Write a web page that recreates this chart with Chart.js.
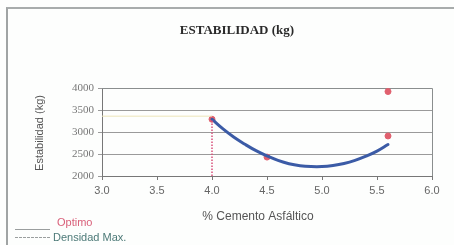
<!DOCTYPE html>
<html>
<head>
<meta charset="utf-8">
<script src="https://cdn.jsdelivr.net/npm/chart.js@4/dist/chart.umd.min.js"></script>
<style>
  html, body { margin: 0; padding: 0; background: #fff; }
  #wrap { position: relative; width: 454px; height: 245px; overflow: hidden; background: #fdfefd; }
  #frame { position: absolute; left: 6px; top: 7px; width: 460px; height: 260px; border-left: 2px solid #a0a4a4; border-top: 2px solid #a8acac; box-sizing: border-box; }
  canvas { position: absolute; left: 0; top: 0; }
</style>
</head>
<body>
<div id="wrap">
  <div id="frame"></div>
  <canvas id="c" width="454" height="245"></canvas>
</div>
<script>
// ---- data ----
const chartTitle = 'ESTABILIDAD (kg)';
const xTitle = '% Cemento Asfáltico';
const yTitle = 'Estabilidad (kg)';
const legendLabels = ['Optimo', 'Densidad Max.'];

// measured points (red markers)
const pointX = [4.0, 4.5, 5.6, 5.6];
const pointY = [3290, 2430, 2910, 3920];

// trend curve (blue)
const curveX = [4.0, 4.1, 4.2, 4.3, 4.4, 4.5, 4.6, 4.7, 4.8, 4.9, 5.0, 5.1, 5.2, 5.3, 5.4, 5.5, 5.6];
const curveY = [3290, 3070, 2880, 2720, 2575, 2455, 2355, 2280, 2235, 2215, 2215, 2240, 2285, 2355, 2450, 2565, 2715];

// optimum markers
const optX = [4.0, 4.0];
const optY = [2000, 3290];
const densX = [3.0, 4.0];
const densY = [3360, 3360];

// axes
const xMin = 3.0, xMax = 6.0, xStep = 0.5;
const yMin = 2000, yMax = 4000, yStep = 500;

const toXY = (xs, ys) => xs.map((x, i) => ({ x: x, y: ys[i] }));

const extras = {
  id: 'extras',
  beforeDatasetsDraw(chart) {
    const { ctx, chartArea: a } = chart;
    ctx.save();
    ctx.strokeStyle = '#8a8e8e';
    ctx.lineWidth = 1;
    ctx.beginPath();
    ctx.moveTo(a.left, a.top + 0.5);
    ctx.lineTo(a.right + 0.5, a.top + 0.5);
    ctx.lineTo(a.right + 0.5, a.bottom);
    ctx.stroke();
    ctx.restore();
  },
  afterDraw(chart) {
    const { ctx } = chart;
    ctx.save();
    // title
    ctx.fillStyle = '#2a2a2a';
    ctx.font = 'bold 13px "Liberation Serif", serif';
    ctx.textAlign = 'center';
    ctx.textBaseline = 'middle';
    ctx.fillText(chartTitle, 237, 31);
    // y title
    ctx.save();
    ctx.translate(40, 133);
    ctx.rotate(-Math.PI / 2);
    ctx.fillStyle = '#555';
    ctx.font = '11px "Liberation Sans", sans-serif';
    ctx.fillText(yTitle, 0, 0);
    ctx.restore();
    // x title
    ctx.fillStyle = '#555';
    ctx.font = '12px "Liberation Sans", sans-serif';
    ctx.fillText(xTitle, 258, 217);
    // legend
    ctx.textAlign = 'left';
    ctx.strokeStyle = '#9a9e9e';
    ctx.lineWidth = 1;
    ctx.beginPath();
    ctx.moveTo(15, 229.5); ctx.lineTo(50, 229.5);
    ctx.stroke();
    ctx.setLineDash([3, 1]);
    ctx.beginPath();
    ctx.moveTo(15, 237.5); ctx.lineTo(50, 237.5);
    ctx.stroke();
    ctx.setLineDash([]);
    ctx.font = '11px "Liberation Sans", sans-serif';
    ctx.fillStyle = '#d9607a';
    ctx.fillText(legendLabels[0], 57, 223);
    ctx.fillStyle = '#4d7a78';
    ctx.fillText(legendLabels[1], 53, 238);
    ctx.restore();
  }
};

new Chart(document.getElementById('c'), {
  type: 'scatter',
  data: {
    datasets: [
      {
        type: 'line', data: toXY(densX, densY), borderColor: '#ece4b8', borderWidth: 1,
        pointRadius: 0, fill: false
      },
      {
        type: 'line', data: toXY(optX, optY), borderColor: '#d8507a', borderWidth: 1.5,
        borderDash: [1.5, 1.5], pointRadius: 0, fill: false
      },
      {
        type: 'line', data: toXY(curveX, curveY), borderColor: '#3b5ba6', borderWidth: 3,
        pointRadius: 0, fill: false, tension: 0.4, borderCapStyle: 'round'
      },
      {
        data: toXY(pointX, pointY), backgroundColor: '#e0606e', borderColor: '#e0606e',
        pointRadius: 3, pointHoverRadius: 3
      }
    ]
  },
  options: {
    responsive: false,
    animation: false,
    events: [],
    layout: { padding: { left: 8, right: 22, top: 88, bottom: 0 } },
    plugins: { legend: { display: false }, title: { display: false }, tooltip: { enabled: false } },
    scales: {
      x: {
        type: 'linear', min: xMin, max: xMax,
        afterFit: s => { s.height = 69; },
        grid: { display: true, drawOnChartArea: false, drawTicks: true, tickLength: 4, color: '#777' },
        border: { color: '#777', width: 1 },
        ticks: {
          stepSize: xStep, padding: 4, color: '#666',
          font: { family: '"Liberation Sans", sans-serif', size: 11 },
          callback: v => Number(v).toFixed(1)
        }
      },
      y: {
        type: 'linear', min: yMin, max: yMax,
        afterFit: s => { s.width = 94; },
        grid: { color: '#9a9a9a', lineWidth: 1, tickLength: 4, drawTicks: true },
        border: { color: '#777', width: 1 },
        ticks: {
          stepSize: yStep, padding: 4, color: '#777',
          font: { family: '"Liberation Serif", serif', size: 11 },
          callback: v => String(v)
        }
      }
    }
  },
  plugins: [extras]
});
</script>
</body>
</html>
